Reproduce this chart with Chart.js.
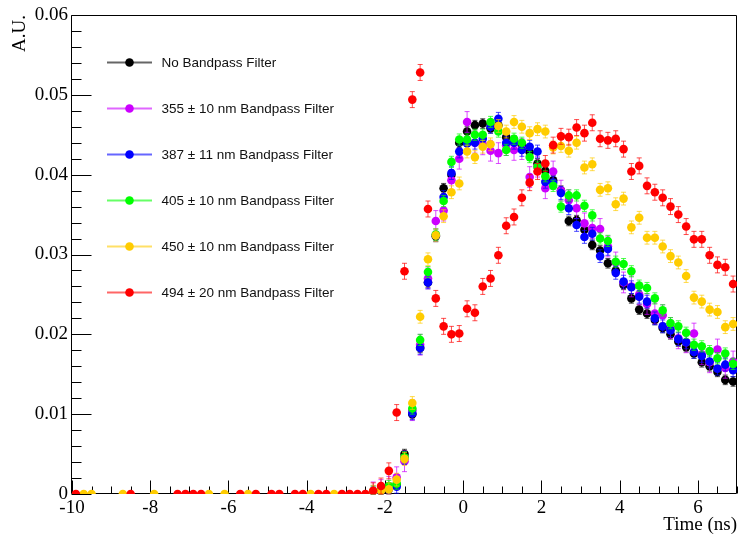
<!DOCTYPE html>
<html>
<head>
<meta charset="utf-8">
<script src="https://cdn.jsdelivr.net/npm/chart.js@4"></script>
<style>
html, body { margin: 0; padding: 0; background: #fff; }
#wrap { width: 739px; height: 535px; }
</style>
</head>
<body>
<div id="wrap"><canvas id="chart" width="739" height="535"></canvas></div>
<script>
// ===== Pulse shapes per bandpass filter =====
const timeNs = [-2.3, -2.1, -1.9, -1.7, -1.5, -1.3, -1.1, -0.9, -0.7, -0.5, -0.3, -0.1,
    0.1, 0.3, 0.5, 0.7, 0.9, 1.1, 1.3, 1.5, 1.7, 1.9, 2.1, 2.3, 2.5, 2.7, 2.9, 3.1, 3.3, 3.5,
    3.7, 3.9, 4.1, 4.3, 4.5, 4.7, 4.9, 5.1, 5.3, 5.5, 5.7, 5.9, 6.1, 6.3, 6.5, 6.7, 6.9];

const noFilter = [0.0002, 0.0004, 0.0008, 0.0012, 0.0050, 0.0100, 0.0183, 0.0265, 0.0323, 0.0383, 0.0400, 0.0440,
    0.0454, 0.0462, 0.0464, 0.0458, 0.0462, 0.0447, 0.0443, 0.0437, 0.0428, 0.0414, 0.0405, 0.0393, 0.0380, 0.0342,
    0.0343, 0.0331, 0.0312, 0.0305, 0.0289, 0.0280, 0.0262, 0.0245, 0.0231, 0.0226, 0.0218, 0.0208, 0.0200, 0.0191,
    0.0184, 0.0176, 0.0165, 0.0160, 0.0153, 0.0143, 0.0141];
const bp355 = [0.0002, 0.0005, 0.0009, 0.0021, 0.0041, 0.0105, 0.0187, 0.0270, 0.0342, 0.0355, 0.0393, 0.0420,
    0.0466, 0.0440, 0.0438, 0.0430, 0.0427, 0.0437, 0.0431, 0.0432, 0.0397, 0.0410, 0.0383, 0.0404, 0.0380, 0.0368,
    0.0358, 0.0339, 0.0333, 0.0332, 0.0310, 0.0290, 0.0265, 0.0260, 0.0250, 0.0238, 0.0226, 0.0224, 0.0208, 0.0195,
    0.0190, 0.0201, 0.0175, 0.0165, 0.0181, 0.0158, 0.0166];
const bp387 = [0.0002, 0.0004, 0.0006, 0.0009, 0.0045, 0.0101, 0.0183, 0.0265, 0.0324, 0.0372, 0.0402, 0.0429,
    0.0439, 0.0440, 0.0445, 0.0460, 0.0470, 0.0440, 0.0440, 0.0431, 0.0435, 0.0429, 0.0391, 0.0390, 0.0377, 0.0358,
    0.0337, 0.0322, 0.0326, 0.0298, 0.0307, 0.0277, 0.0266, 0.0259, 0.0247, 0.0241, 0.0220, 0.0210, 0.0205, 0.0194,
    0.0190, 0.0178, 0.0173, 0.0166, 0.0157, 0.0162, 0.0155];
const bp405 = [0.0003, 0.0006, 0.0010, 0.0013, 0.0046, 0.0107, 0.0193, 0.0278, 0.0325, 0.0367, 0.0416, 0.0444,
    0.0444, 0.0450, 0.0450, 0.0466, 0.0454, 0.0431, 0.0445, 0.0440, 0.0422, 0.0410, 0.0398, 0.0386, 0.0360, 0.0374,
    0.0374, 0.0361, 0.0349, 0.0320, 0.0317, 0.0291, 0.0288, 0.0279, 0.0261, 0.0258, 0.0245, 0.0230, 0.0214, 0.0210,
    0.0202, 0.0187, 0.0185, 0.0179, 0.0170, 0.0176, 0.0163];
const bp450 = [0.0003, 0.0004, 0.0006, 0.0018, 0.0044, 0.0114, 0.0222, 0.0294, 0.0324, 0.0348, 0.0378, 0.0389,
    0.0429, 0.0422, 0.0435, 0.0438, 0.0461, 0.0454, 0.0466, 0.0460, 0.0452, 0.0457, 0.0454, 0.0434, 0.0436, 0.0430,
    0.0440, 0.0409, 0.0413, 0.0381, 0.0383, 0.0363, 0.0370, 0.0334, 0.0346, 0.0321, 0.0321, 0.0310, 0.0298, 0.0290,
    0.0273, 0.0246, 0.0241, 0.0231, 0.0228, 0.0209, 0.0213];
const bp494 = [0.0004, 0.0010, 0.0029, 0.0102, 0.0279, 0.0494, 0.0528, 0.0357, 0.0245, 0.0210, 0.0200, 0.0201,
    0.0232, 0.0227, 0.0260, 0.0270, 0.0299, 0.0336, 0.0347, 0.0371, 0.0390, 0.0404, 0.0414, 0.0437, 0.0448, 0.0447,
    0.0459, 0.0452, 0.0465, 0.0445, 0.0443, 0.0445, 0.0432, 0.0404, 0.0411, 0.0386, 0.0378, 0.0371, 0.0360, 0.0350,
    0.0335, 0.0319, 0.0319, 0.0299, 0.0287, 0.0284, 0.0263];

// puntos en cero antes del pulso (solo se ven 450 y 494)
const baseTime450 = [-9.7, -9.5, -8.7, -7.9, -6.5, -6.1, -5.5, -3.9, -3.3];
const baseTime494 = [-9.9, -8.5, -7.3, -7.1, -6.9, -6.7, -5.7, -5.3, -4.9, -4.7, -4.3, -4.1,
    -3.7, -3.5, -3.1, -2.9, -2.7, -2.5];

const seriesLabels = ['No Bandpass Filter', '355 \u00b1 10 nm Bandpass Filter', '387 \u00b1 11 nm Bandpass Filter',
    '405 \u00b1 10 nm Bandpass Filter', '450 \u00b1 10 nm Bandpass Filter', '494 \u00b1 20 nm Bandpass Filter'];
const seriesColors = ['#000000', '#cc00ff', '#0000ff', '#00ff00', '#ffcc00', '#ff0000'];
const seriesErr = [0.0006, 0.0013, 0.0008, 0.0007, 0.0008, 0.0010];

const xTickLabels = ['-10', '-8', '-6', '-4', '-2', '0', '2', '4', '6'];
const yTickLabels = ['0', '0.01', '0.02', '0.03', '0.04', '0.05', '0.06'];

const SERIF = 'Liberation Serif';
const SANS = 'Liberation Sans';

function hexAlpha(hex, a) {
    const n = parseInt(hex.slice(1), 16);
    return `rgba(${(n >> 16) & 255},${(n >> 8) & 255},${n & 255},${a})`;
}

function buildPoints(values, baseTimes) {
    const base = (baseTimes || []).map(t => ({ x: t, y: 0 }));
    return base.concat(timeNs.map((t, i) => ({ x: t, y: values[i] })));
}

const seriesValues = [noFilter, bp355, bp387, bp405, bp450, bp494];
const seriesBase = [null, null, null, null, baseTime450, baseTime494];

const datasets = seriesValues.map((vals, i) => ({
    label: seriesLabels[i],
    data: buildPoints(vals, seriesBase[i]),
    showLine: false,
    pointRadius: 4.3,
    pointHoverRadius: 4.3,
    pointBorderWidth: 0,
    pointBackgroundColor: seriesColors[i],
    pointBorderColor: seriesColors[i],
    order: seriesValues.length - 1 - i,   // 494 arriba de todo
    err: seriesErr[i],
    errColor: hexAlpha(seriesColors[i], 0.7)
}));

// barras de error (antes de cada dataset, asi el marcador queda encima)
const errorBars = {
    id: 'errorBars',
    beforeDatasetDraw(chart, args) {
        const ds = chart.data.datasets[args.index];
        const { ctx, scales: { x, y } } = chart;
        ctx.save();
        ctx.strokeStyle = ds.errColor;
        ctx.lineWidth = 1;
        ds.data.forEach(p => {
            if (p.y <= 0) return;
            const px = x.getPixelForValue(p.x);
            const top = y.getPixelForValue(p.y + ds.err);
            const bot = y.getPixelForValue(Math.max(p.y - ds.err, 0));
            ctx.beginPath();
            ctx.moveTo(px, top); ctx.lineTo(px, bot);
            ctx.moveTo(px - 2.5, top); ctx.lineTo(px + 2.5, top);
            ctx.moveTo(px - 2.5, bot); ctx.lineTo(px + 2.5, bot);
            ctx.stroke();
        });
        ctx.restore();
    }
};

// marco y ticks estilo ROOT (hacia adentro)
const rootFrame = {
    id: 'rootFrame',
    beforeDatasetsDraw(chart) {
        const { ctx, chartArea: a, scales: { x, y } } = chart;
        ctx.save();
        ctx.strokeStyle = '#000';
        ctx.lineWidth = 1;
        const L = Math.round(a.left) - 0.5, R = Math.round(a.right) - 0.5;
        const T = Math.round(a.top) + 0.5, B = Math.round(a.bottom) - 0.5;
        ctx.beginPath();
        ctx.moveTo(L, T); ctx.lineTo(R, T); ctx.lineTo(R, B); ctx.lineTo(L, B); ctx.closePath();
        ctx.stroke();

        ctx.beginPath();
        for (let v = -10; v <= 7.0001; v += 0.5) {
            const px = Math.round(x.getPixelForValue(v)) + 0.5;
            const major = Math.abs(v / 2 - Math.round(v / 2)) < 1e-6;
            ctx.moveTo(px, B); ctx.lineTo(px, B - (major ? 13 : 7));
        }
        for (let k = 0; k <= 30; k++) {
            const v = k * 0.002;
            const py = Math.round(y.getPixelForValue(v)) + 0.5;
            const major = k % 5 === 0;
            ctx.moveTo(L, py); ctx.lineTo(L + (major ? 20 : 10), py);
        }
        ctx.stroke();

        // titulos de ejes
        ctx.fillStyle = '#000';
        ctx.font = `19px "${SERIF}"`;
        ctx.textAlign = 'right';
        ctx.textBaseline = 'alphabetic';
        ctx.fillText('Time (ns)', 737, 530);
        ctx.translate(25, 15);
        ctx.rotate(-Math.PI / 2);
        ctx.fillText('A.U.', 0, 0);
        ctx.restore();
    }
};

// leyenda dentro del frame
const rootLegend = {
    id: 'rootLegend',
    afterDatasetsDraw(chart) {
        const { ctx } = chart;
        ctx.save();
        ctx.font = `13.5px "${SANS}"`;
        ctx.textAlign = 'left';
        ctx.textBaseline = 'middle';
        seriesLabels.forEach((lbl, i) => {
            const yy = 62.5 + 46 * i;
            ctx.strokeStyle = hexAlpha(seriesColors[i], 0.6);
            ctx.lineWidth = 2;
            ctx.beginPath();
            ctx.moveTo(107, yy); ctx.lineTo(152, yy);
            ctx.stroke();
            ctx.fillStyle = seriesColors[i];
            ctx.beginPath();
            ctx.arc(129.5, yy, 4.3, 0, Math.PI * 2);
            ctx.fill();
            ctx.fillStyle = '#111';
            ctx.fillText(lbl, 161.5, yy + 0.5);
        });
        ctx.restore();
    }
};

new Chart(document.getElementById('chart').getContext('2d'), {
    type: 'scatter',
    data: { datasets },
    options: {
        responsive: false,
        animation: false,
        devicePixelRatio: 1,
        layout: { autoPadding: false, padding: { top: 15, right: 2, left: 0, bottom: 0 } },
        plugins: { legend: { display: false }, tooltip: { enabled: false } },
        scales: {
            x: {
                type: 'linear', min: -10, max: 7,
                grid: { display: false, drawTicks: false },
                border: { display: false },
                afterBuildTicks: s => { s.ticks = xTickLabels.map(l => ({ value: Number(l) })); },
                afterFit: s => { s.height = 41; s.paddingLeft = 0; s.paddingRight = 0; },
                ticks: {
                    color: '#000', padding: 3, maxRotation: 0, autoSkip: false,
                    font: { family: SERIF, size: 19 },
                    callback: (v, i) => xTickLabels[i]
                }
            },
            y: {
                type: 'linear', min: 0, max: 0.06,
                grid: { display: false, drawTicks: false },
                border: { display: false },
                afterBuildTicks: s => { s.ticks = yTickLabels.map(l => ({ value: Number(l) })); },
                afterFit: s => { s.width = 72; s.paddingTop = 0; s.paddingBottom = 0; },
                ticks: {
                    color: '#000', padding: 4, autoSkip: false,
                    font: { family: SERIF, size: 19 },
                    callback: (v, i) => yTickLabels[i]
                }
            }
        }
    },
    plugins: [rootFrame, errorBars, rootLegend]
});
</script>
</body>
</html>
